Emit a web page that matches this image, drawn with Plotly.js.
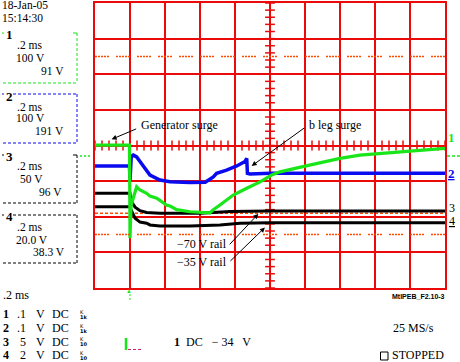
<!DOCTYPE html>
<html><head><meta charset="utf-8">
<script src="https://cdn.plot.ly/plotly-3.0.1.min.js"></script>
<style>html,body{margin:0;padding:0;background:#fff;}#g{width:460px;height:362px;}</style>
</head><body><div id="g"></div>
<script>
// ---- data (time in ms, value in screen divisions) ----
const ch1_t = [-0.2, -0.1, -0.003, 0.0, 0.006, 0.017, 0.038, 0.057, 0.095, 0.114, 0.153, 0.21, 0.229, 0.267, 0.343, 0.457, 0.474, 0.514, 0.59, 0.667, 0.743, 0.81, 0.857, 1.0, 1.086, 1.2, 1.314, 1.4, 1.486, 1.6, 1.714, 1.8];
const ch1_v = [0.01, 0.01, 0.01, -2.6, -1.70, -1.50, -1.16, -1.25, -1.34, -1.42, -1.48, -1.68, -1.70, -1.80, -1.86, -1.89, -1.81, -1.67, -1.39, -1.20, -1.02, -0.83, -0.74, -0.58, -0.48, -0.36, -0.27, -0.24, -0.20, -0.15, -0.11, -0.08];
const ch2_t = [-0.2, -0.003, 0.0, 0.002, 0.007, 0.019, 0.038, 0.057, 0.095, 0.114, 0.171, 0.229, 0.343, 0.43, 0.476, 0.495, 0.552, 0.61, 0.657, 0.667, 0.671, 0.686, 0.8, 1.8];
const ch2_v = [-0.575, -0.575, -1.0, -0.49, -0.31, -0.27, -0.32, -0.45, -0.69, -0.83, -0.97, -1.02, -1.04, -1.03, -0.88, -0.78, -0.69, -0.575, -0.45, -0.36, -0.78, -0.80, -0.78, -0.78];
const ch3_t = [-0.2, 0.0, 0.004, 0.015, 0.029, 0.057, 0.095, 0.171, 0.4, 0.571, 0.8, 1.8];
const ch3_v = [-1.34, -1.34, -1.55, -1.62, -1.73, -1.83, -1.88, -1.90, -1.90, -1.85, -1.84, -1.84];
const ch4_t = [-0.2, 0.0, 0.006, 0.029, 0.057, 0.095, 0.114, 0.171, 0.343, 0.514, 0.629, 0.8, 1.8];
const ch4_v = [-1.72, -1.72, -1.81, -2.04, -2.15, -2.18, -2.23, -2.26, -2.26, -2.23, -2.18, -2.17, -2.17];
const cursorLevels = [2.5, -2.5];
const refLevel = -1.9;

const RED = 'rgb(235,10,10)', GREEN = '#19e619', BLUE = '#0a0af0', ORANGE = '#ff4a00';
const SERIF = 'Liberation Serif, Times New Roman, serif';
const L = 95, T = 3, W = 350, H = 285;
const px = x => (x - L) / W, py = y => (T + H - y) / H;

function txt(x, y, text, o) {
  o = o || {};
  return {xref: 'paper', yref: 'paper', x: px(x), y: py(y), text: text, showarrow: false,
    xanchor: o.xa || 'left', yanchor: 'middle', borderpad: 0,
    font: {family: o.family || SERIF, size: o.size || 12, color: o.color || '#000'}};
}
function arrow(tx, ty, axp, ayp) {
  return {x: tx, y: ty, xref: 'x', yref: 'y', text: '', showarrow: true, ax: axp, ay: ayp,
    arrowhead: 2, arrowsize: 1, arrowwidth: 1, arrowcolor: '#000'};
}
function seg(x0, y0, x1, y1, color, dash, w) {
  return {type: 'line', xref: 'paper', yref: 'paper', x0: px(x0), y0: py(y0), x1: px(x1), y1: py(y1),
    line: {color: color, width: w || 1, dash: dash || 'solid'}};
}

// centre-line graticule ticks
const hx = [], hy = [], vx = [], vy = [];
for (let i = 0; i <= 50; i++) { hx.push(-0.2 + i * 0.04); hy.push(0); }
for (let i = 0; i <= 40; i++) { vy.push(-4 + i * 0.2); vx.push(0.8); }

const traces = [
  {x: hx, y: hy, mode: 'markers', marker: {symbol: 'line-ns', size: 7, line: {color: RED, width: 1.5}}, hoverinfo: 'skip', cliponaxis: false},
  {x: vx, y: vy, mode: 'markers', marker: {symbol: 'line-ew', size: 7, line: {color: RED, width: 1.5}}, hoverinfo: 'skip', cliponaxis: false},
  {x: ch4_t, y: ch4_v, mode: 'lines', line: {color: '#000', width: 3}},
  {x: ch3_t, y: ch3_v, mode: 'lines', line: {color: '#000', width: 3}},
  {x: ch2_t, y: ch2_v, mode: 'lines', line: {color: BLUE, width: 3.5}},
  {x: ch1_t, y: ch1_v, mode: 'lines', line: {color: GREEN, width: 3.2}}
];

const DOTS = '2px,1px,2px,1px,2px,1px,2px,1px,2px,7px';
const shapes = [];
cursorLevels.forEach(v => shapes.push({type: 'line', xref: 'paper', x0: 0, x1: 1, yref: 'y', y0: v, y1: v, layer: 'above', line: {color: ORANGE, width: 1.6, dash: DOTS}}));
shapes.push({type: 'line', xref: 'paper', x0: 0, x1: 1, yref: 'y', y0: refLevel, y1: refLevel, layer: 'below', line: {color: ORANGE, width: 1.5, dash: '3px,2px'}});
// left channel boxes
const D = '3px,2px';
shapes.push(seg(77, 33, 77, 83, GREEN, D), seg(3, 83, 77, 83, GREEN, D), seg(73, 33, 77, 33, GREEN), seg(2, 33, 4, 33, GREEN));
shapes.push(seg(13, 94, 77, 94, BLUE, D), seg(77, 94, 77, 143, BLUE, D), seg(3, 143, 77, 143, BLUE, D), seg(2, 94, 4, 94, BLUE));
shapes.push(seg(73, 155, 77, 155, '#000'), seg(77, 155, 77, 203, '#000', D), seg(3, 203, 77, 203, '#000', D), seg(2, 155, 4, 155, '#000'));
shapes.push(seg(13, 215, 77, 215, '#000', D), seg(77, 215, 77, 263, '#000', D), seg(3, 263, 77, 263, '#000', D), seg(2, 215, 4, 215, '#000'));
// channel-1 level markers
shapes.push(seg(80, 156, 91, 156, GREEN, '2px,2px', 1.5), seg(447, 156, 460, 156, GREEN, '3px,2px', 1.5));
// trigger marker below grid
shapes.push(seg(130, 294, 130, 302, GREEN, '2px,2px', 1));
// L marker
shapes.push(seg(126, 338, 126, 350, GREEN, 'solid', 2.5), seg(128, 349.5, 143, 349.5, '#d0206a', '3px,2px', 1.2));
// STOPPED box
shapes.push({type: 'rect', xref: 'paper', yref: 'paper', x0: px(380.5), x1: px(388), y0: py(360), y1: py(352), line: {color: '#000', width: 1}});

const ann = [
  txt(1, 5, '18-Jan-05', {size: 11.5}), txt(1, 18.5, '15:14:30', {size: 11.5}),
  txt(5, 34, '<b>1</b>', {size: 13}), txt(16, 45, '.2 ms', {size: 11.5}), txt(15, 58, '100 V', {size: 11.5}), txt(40, 71, '91 V', {size: 11.5}),
  txt(5, 96, '<b>2</b>', {size: 13}), txt(16, 106.5, '.2 ms', {size: 11.5}), txt(15, 118, '100 V', {size: 11.5}), txt(34, 131, '191 V', {size: 11.5}),
  txt(5, 156, '<b>3</b>', {size: 13}), txt(16, 166, '.2 ms', {size: 11.5}), txt(19, 179, '50 V', {size: 11.5}), txt(38, 192, '96 V', {size: 11.5}),
  txt(5, 216, '<b>4</b>', {size: 13}), txt(16, 227, '.2 ms', {size: 11.5}), txt(15, 239.5, '20.0 V', {size: 11.5}), txt(32, 252, '38.3 V', {size: 11.5}),
  txt(140, 125, 'Generator surge'), txt(308, 125, 'b leg surge'),
  txt(176, 244, '\u221270 V rail'), txt(176, 262, '\u221235 V rail'),
  txt(447, 137, '<b>1</b>', {size: 13, color: GREEN}),
  txt(447, 173, '<b><u>2</u></b>', {size: 13, color: BLUE}),
  txt(448, 207.5, '3', {size: 12}),
  txt(448, 221.5, '<u>4</u>', {size: 12}),
  txt(2, 295, '.2 ms'),
  txt(446, 296, '<b>MtlPEB_F2.10-3</b>', {size: 7, family: 'Liberation Sans, Arial, sans-serif', xa: 'right'}),
  txt(125, 291, '\u25B2', {size: 6, color: GREEN}),
  txt(173, 342, '<b>1</b>  DC   \u2212 34   V'),
  txt(392, 328, '25 MS/s'),
  txt(391, 355, 'STOPPED')
];
const rows = [['1', '.1', '1k'], ['2', '.1', '1k'], ['3', '5', '10'], ['4', '2', '10']];
const rowY = [314, 328, 341.5, 355];
rows.forEach((r, i) => {
  ann.push(txt(2, rowY[i], '<b>' + r[0] + '</b>'), txt(r[1].length > 1 ? 16 : 19, rowY[i], r[1]), txt(35, rowY[i], 'V'), txt(51, rowY[i], 'DC'));
  ann.push(txt(79, rowY[i] - 2, 'K', {size: 5, family: 'DejaVu Sans, sans-serif'}), txt(79, rowY[i] + 2.5, '<b>' + r[2] + '</b>', {size: 5, family: 'DejaVu Sans, sans-serif'}));
});
ann.push(arrow(-0.105, 0.174, 26, -11), arrow(0.695, -0.575, 54, -39), arrow(0.733, -1.92, -30, 32), arrow(0.771, -2.30, -36, 35));

const ax = {showgrid: true, gridcolor: RED, gridwidth: 2, zeroline: false, showticklabels: false, ticks: '',
  showline: true, mirror: true, linecolor: RED, linewidth: 2, fixedrange: true};
const layout = {
  width: 460, height: 362, margin: {l: L, r: 15, t: T, b: 74},
  paper_bgcolor: '#fff', plot_bgcolor: '#fff', showlegend: false,
  xaxis: Object.assign({range: [-0.2, 1.8], dtick: 0.2, tick0: 0}, ax),
  yaxis: Object.assign({range: [-4, 4], dtick: 1, tick0: 0}, ax),
  shapes: shapes, annotations: ann
};
Plotly.newPlot('g', traces, layout, {staticPlot: true, displayModeBar: false});
</script></body></html>
